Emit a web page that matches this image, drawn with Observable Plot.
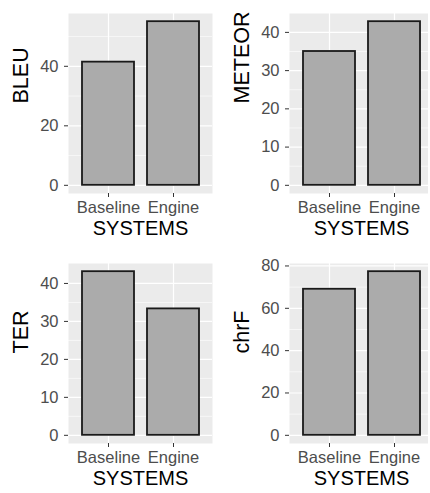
<!DOCTYPE html>
<html>
<head>
<meta charset="utf-8">
<script src="https://cdn.jsdelivr.net/npm/d3@7"></script>
<script src="https://cdn.jsdelivr.net/npm/@observablehq/plot@0.6"></script>
<style>
  html, body { margin: 0; padding: 0; background: white; overflow: hidden; }
  #wrap { position: relative; width: 430px; height: 493px; }
  .cell { position: absolute; overflow: hidden; }
  .cell svg { max-width: none !important; }
</style>
</head>
<body>
<div id="wrap">
  <div class="cell" id="p1" style="left:0;top:0;width:215px;height:250px"></div>
  <div class="cell" id="p2" style="left:215px;top:0;width:213px;height:250px"></div>
  <div class="cell" id="p3" style="left:0;top:250px;width:215px;height:243px"></div>
  <div class="cell" id="p4" style="left:215px;top:250px;width:213px;height:243px"></div>
</div>
<script>
const systems = ["Baseline", "Engine"];
const bleu = [41.4, 55.0];
const meteor = [35.0, 42.8];
const ter = [43.1, 33.3];
const chrf = [69.0, 77.3];

const bleuTicks = [0, 20, 40];
const bleuMinor = [10, 30, 50];
const meteorTicks = [0, 10, 20, 30, 40];
const meteorMinor = [5, 15, 25, 35];
const terTicks = [0, 10, 20, 30, 40];
const terMinor = [5, 15, 25, 35];
const chrfTicks = [0, 20, 40, 60, 80];
const chrfMinor = [10, 30, 50, 70];

const FONT = "'Liberation Sans', Arial, Helvetica, sans-serif";

function panel(label, values, ticks, minor, o) {
  const data = systems.map((s, i) => ({system: s, value: values[i]}));
  const max = d3.max(values);
  return Plot.plot({
    width: o.width,
    height: o.height,
    marginTop: 13,
    marginBottom: o.marginBottom,
    marginLeft: o.marginLeft,
    marginRight: o.marginRight,
    style: {fontFamily: FONT, fontSize: "16px", background: "white", overflow: "visible", maxWidth: "none"},
    x: {domain: systems, padding: 0.2, label: null},
    y: {domain: [-0.05 * max, 1.05 * max], label: null},
    marks: [
      Plot.frame({fill: "#EBEBEB", stroke: "none"}),
      Plot.gridY(minor, {stroke: "white", strokeOpacity: 1, strokeWidth: 0.6}),
      Plot.gridY(ticks, {stroke: "white", strokeOpacity: 1, strokeWidth: 1.2}),
      Plot.gridX(systems, {stroke: "white", strokeOpacity: 1, strokeWidth: 1.2}),
      Plot.barY(data, {x: "system", y: "value", fill: "#ABABAB", stroke: "#1A1A1A", strokeWidth: 1.8}),
      Plot.axisY(ticks, {tickSize: 4, tickPadding: 6, stroke: "#333333", fill: "#4D4D4D", fontSize: 16.5, label: null}),
      Plot.axisX(systems, {tickSize: 4, tickPadding: 4, stroke: "#333333", fill: "#4D4D4D", fontSize: 16.5, label: null}),
      Plot.text([label], {frameAnchor: "left", dx: -47, rotate: -90, fontSize: 21.5, fill: "black"}),
      Plot.text(["SYSTEMS"], {frameAnchor: "bottom", dy: 41.5, fontSize: 20, fill: "black"})
    ]
  });
}

const left = {width: 215, marginLeft: 68, marginRight: 3};
const right = {width: 219, marginLeft: 74, marginRight: 1};

document.getElementById("p1").appendChild(panel("BLEU", bleu, bleuTicks, bleuMinor, {...left, height: 250, marginBottom: 57}));
document.getElementById("p2").appendChild(panel("METEOR", meteor, meteorTicks, meteorMinor, {...right, height: 250, marginBottom: 57}));
document.getElementById("p3").appendChild(panel("TER", ter, terTicks, terMinor, {...left, height: 243, marginBottom: 50}));
document.getElementById("p4").appendChild(panel("chrF", chrf, chrfTicks, chrfMinor, {...right, height: 243, marginBottom: 50}));
</script>
</body>
</html>
